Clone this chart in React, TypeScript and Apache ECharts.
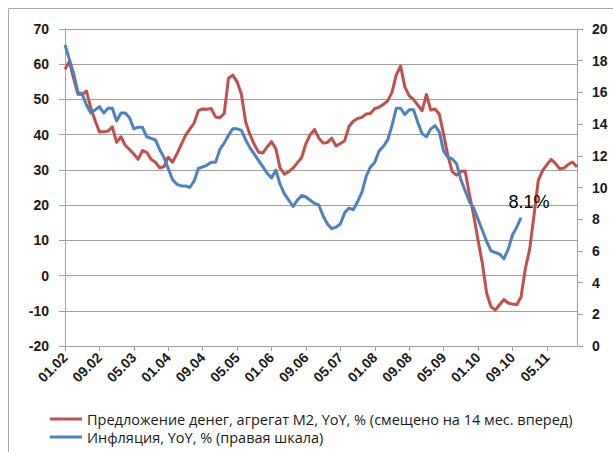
import React, { useEffect, useRef } from "react";
import * as echarts from "echarts";

const years = ["02", "03", "04", "05", "06", "07", "08", "09", "10", "11"];
const months = ["01", "02", "03", "04", "05", "06", "07", "08", "09", "10", "11", "12"];
const categories: string[] = years.flatMap((y) => months.map((m) => `${m}.${y}`));

const m2Name = "Предложение денег, агрегат М2, YoY, % (смещено на 14 мес. вперед)";
const cpiName = "Инфляция, YoY, % (правая шкала)";

const m2Values = [
  58.6, 60.8, 56.0, 51.5, 51.4, 52.4, 47.5, 44.0, 40.8, 40.8, 41.0, 42.2,
  37.8, 39.4, 37.0, 35.8, 34.5, 33.0, 35.5, 35.0, 33.0, 32.2, 30.6, 30.9,
  33.6, 32.2, 34.5, 37.2, 39.8, 41.6, 43.3, 46.8, 47.3, 47.2, 47.4, 45.0,
  44.8, 46.0, 56.0, 56.9, 55.0, 51.5, 43.5, 40.0, 37.2, 35.0, 34.8, 36.5,
  38.0, 36.0, 30.5, 28.8, 29.5, 30.5, 32.0, 33.5, 37.5, 40.0, 41.5, 39.0,
  37.6, 37.8, 39.0, 36.8, 37.5, 38.3, 42.3, 43.8, 44.6, 44.9, 45.9, 46.0,
  47.4, 47.8, 48.6, 49.6, 52.0, 57.0, 59.5, 53.5, 51.0, 50.0, 48.4, 46.8,
  51.4, 47.0, 47.3, 45.8, 40.0, 34.0, 29.5, 28.5, 29.6, 29.7, 23.0, 17.0,
  10.0, 3.5, -5.0, -8.8, -9.8, -8.3, -6.8, -7.8, -8.1, -8.3, -6.0, 2.0,
  7.5, 17.0, 27.0, 29.8, 31.5, 33.0, 31.8, 30.3, 30.5, 31.6, 32.2, 30.8,
];

const cpiValues = [
  19.0, 18.1, 17.2, 16.0, 15.9, 15.2, 14.7, 14.9, 15.1, 14.7, 15.0, 15.0,
  14.2, 14.7, 14.7, 14.4, 13.7, 13.8, 13.8, 13.2, 13.1, 13.0, 12.4, 11.9,
  11.2, 10.5, 10.2, 10.1, 10.1, 10.0, 10.4, 11.2, 11.3, 11.4, 11.6, 11.6,
  12.4, 12.8, 13.3, 13.7, 13.7, 13.6, 13.0, 12.5, 12.1, 11.7, 11.3, 10.9,
  10.6, 11.1, 10.2, 9.6, 9.2, 8.8, 9.2, 9.5, 9.4, 9.2, 9.0, 8.9,
  8.2, 7.7, 7.4, 7.5, 7.7, 8.4, 8.7, 8.6, 9.1, 9.7, 10.7, 11.3,
  11.6, 12.3, 12.6, 13.0, 13.9, 15.0, 15.0, 14.6, 14.9, 14.9, 14.1, 13.4,
  13.2, 13.7, 13.9, 13.5, 12.3, 11.9, 11.8, 11.5, 10.5, 9.8, 9.1, 8.7,
  8.0, 7.3, 6.6, 6.0, 5.9, 5.8, 5.5, 6.1, 7.0, 7.5, 8.1,
];

const lastLabel = "8.1%";

const FONT = "Liberation Sans";
const LEGEND_FONT = "Open Sans";
const TXT = "#1a1a1a";
const GRID = "#a0a0a0";

export default function App() {
  const ref = useRef<HTMLDivElement>(null);
  useEffect(() => {
    if (!ref.current) return;
    const chart = echarts.init(ref.current, undefined, { renderer: "svg" });
    const lastIdx = cpiValues.length - 1;
    chart.setOption({
      animation: false,
      backgroundColor: "#fff",
      textStyle: { fontFamily: FONT },
      grid: { left: 65, right: 36, top: 29, bottom: 106, containLabel: false },
      graphic: [
        { type: "line", shape: { x1: 8.5, y1: 8.5, x2: 613, y2: 8.5 }, style: { stroke: "#a8a8a8", lineWidth: 1 } },
        { type: "line", shape: { x1: 8.5, y1: 8.5, x2: 8.5, y2: 452 }, style: { stroke: "#a8a8a8", lineWidth: 1 } },
      ],
      legend: {
        orient: "vertical",
        left: 50,
        top: 411,
        itemWidth: 32,
        itemHeight: 3,
        itemGap: 2,
        icon: "rect",
        padding: 0,
        textStyle: { fontFamily: LEGEND_FONT, fontSize: 14.5, color: TXT, lineHeight: 16 },
        data: [m2Name, cpiName],
      },
      xAxis: {
        type: "category",
        data: categories,
        boundaryGap: false,
        axisLine: { onZero: false, lineStyle: { color: GRID, width: 1 } },
        axisTick: { show: true, interval: 7, length: 5, lineStyle: { color: GRID } },
        axisLabel: {
          interval: 7,
          rotate: 45,
          fontFamily: FONT,
          fontSize: 14,
          fontWeight: "bold",
          color: TXT,
          margin: 9,
        },
        splitLine: { show: false },
      },
      yAxis: [
        {
          type: "value",
          min: -20,
          max: 70,
          interval: 10,
          axisLine: { show: true, lineStyle: { color: GRID } },
          axisTick: { show: true, length: 6, lineStyle: { color: GRID } },
          axisLabel: { fontFamily: FONT, fontSize: 14, fontWeight: "bold", color: TXT, margin: 16 },
          splitLine: { show: true, lineStyle: { color: GRID, width: 1 } },
        },
        {
          type: "value",
          min: 0,
          max: 20,
          interval: 2,
          position: "right",
          axisLine: { show: true, lineStyle: { color: GRID } },
          axisTick: { show: true, length: 6, lineStyle: { color: GRID } },
          axisLabel: { fontFamily: FONT, fontSize: 14, fontWeight: "bold", color: TXT, margin: 15 },
          splitLine: { show: false },
        },
      ],
      series: [
        {
          name: m2Name,
          type: "line",
          yAxisIndex: 0,
          data: m2Values,
          showSymbol: false,
          symbol: "none",
          lineStyle: { color: "#C0504D", width: 3, join: "round" },
          itemStyle: { color: "#C0504D" },
        },
        {
          name: cpiName,
          type: "line",
          yAxisIndex: 1,
          data: cpiValues,
          showSymbol: false,
          symbol: "none",
          lineStyle: { color: "#4F81BD", width: 3, join: "round" },
          itemStyle: { color: "#4F81BD" },
          markPoint: {
            symbol: "circle",
            symbolSize: 1,
            itemStyle: { color: "rgba(0,0,0,0)" },
            label: {
              show: true,
              position: "top",
              distance: 5,
              offset: [8, -1],
              formatter: lastLabel,
              fontFamily: FONT,
              fontSize: 18,
              color: "#000",
            },
            data: [{ coord: [categories[lastIdx], cpiValues[lastIdx]] }],
          },
        },
      ],
    });
    return () => chart.dispose();
  }, []);
  return (
    <div style={{ position: "absolute", left: 0, top: 0, width: 613, height: 452 }}>
      <div ref={ref} style={{ width: 613, height: 452 }} />
    </div>
  );
}
